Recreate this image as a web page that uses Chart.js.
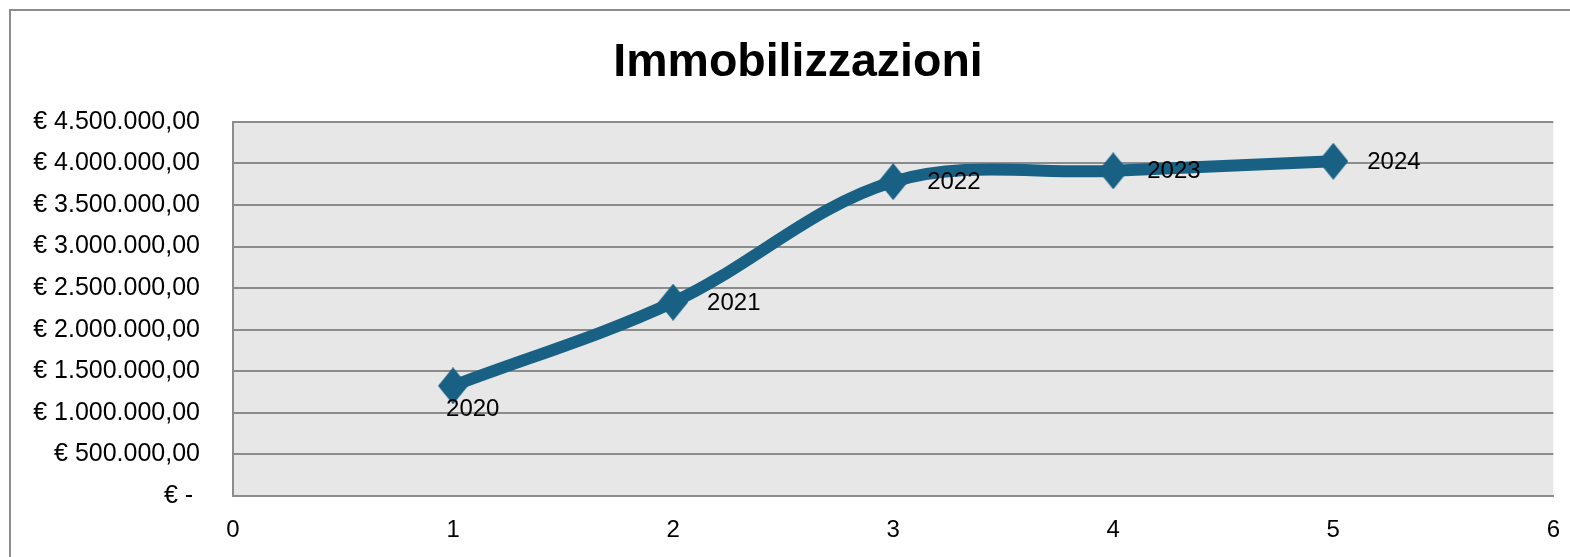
<!DOCTYPE html>
<html>
<head>
<meta charset="utf-8">
<script src="https://cdn.jsdelivr.net/npm/chart.js@4"></script>
<style>
  html, body { margin: 0; padding: 0; background: #fff; overflow: hidden; }
  #wrap { position: relative; width: 1570px; height: 557px; }
  #frame { position: absolute; left: 9px; top: 9px; width: 1600px; height: 600px;
           border: 2px solid #8c8c8c; box-sizing: border-box; }
  canvas { position: absolute; left: 0; top: 0; }
</style>
</head>
<body>
<div id="wrap">
  <div id="frame"></div>
  <canvas id="chart" width="1570" height="557"></canvas>
</div>
<script>
// chart data
var years = ['2020', '2021', '2022', '2023', '2024'];
var xValues = [1, 2, 3, 4, 5];
var values = [1325000, 2330000, 3780000, 3910000, 4025000];
var labelPos = ['below', 'right', 'right', 'right', 'right'];
var yTickLabels = ['€ - ', '€ 500.000,00', '€ 1.000.000,00', '€ 1.500.000,00', '€ 2.000.000,00',
                   '€ 2.500.000,00', '€ 3.000.000,00', '€ 3.500.000,00', '€ 4.000.000,00', '€ 4.500.000,00'];

var lineColor = '#186184';
var gridColor = '#8c8c8c';
var font = 'Liberation Sans, Arial, sans-serif';

// diamond marker (a bit taller than wide, like the original)
function diamond(w, h) {
  var c = document.createElement('canvas');
  c.width = w; c.height = h;
  var g = c.getContext('2d');
  g.fillStyle = lineColor;
  g.beginPath();
  g.moveTo(w / 2, 0);
  g.lineTo(w, h / 2);
  g.lineTo(w / 2, h);
  g.lineTo(0, h / 2);
  g.closePath();
  g.fill();
  return c;
}

// plot area background
var plotBg = {
  id: 'plotBg',
  beforeDraw: function(chart) {
    var a = chart.chartArea, ctx = chart.ctx;
    ctx.save();
    ctx.fillStyle = '#e7e7e7';
    ctx.fillRect(a.left, a.top, a.right - a.left, a.bottom - a.top);
    ctx.restore();
  }
};

// year labels next to each point
var yearLabels = {
  id: 'yearLabels',
  afterDatasetsDraw: function(chart) {
    var ctx = chart.ctx;
    var meta = chart.getDatasetMeta(0);
    ctx.save();
    ctx.font = '24px ' + font;
    ctx.fillStyle = '#000';
    ctx.textAlign = 'left';
    ctx.textBaseline = 'middle';
    meta.data.forEach(function(pt, i) {
      if (labelPos[i] === 'below') {
        ctx.fillText(years[i], pt.x - 7, pt.y + 24);
      } else {
        ctx.fillText(years[i], pt.x + 34, pt.y + 1);
      }
    });
    ctx.restore();
  }
};

var points = xValues.map(function(x, i) { return { x: x, y: values[i] }; });

var ctx = document.getElementById('chart').getContext('2d');
var chart = new Chart(ctx, {
  type: 'line',
  data: {
    datasets: [{
      label: 'Immobilizzazioni',
      data: points,
      borderColor: lineColor,
      backgroundColor: lineColor,
      borderWidth: 12,
      tension: 0.35,
      pointStyle: diamond(30, 37),
      pointRadius: 15,
      clip: false
    }]
  },
  options: {
    responsive: false,
    animation: false,
    events: [],
    layout: { autoPadding: false, padding: { left: 31, right: 5, top: 0, bottom: 0 } },
    plugins: {
      legend: { display: false },
      tooltip: { enabled: false },
      title: {
        display: true,
        text: 'Immobilizzazioni',
        color: '#000',
        font: { family: font, size: 46.5, weight: 'bold', lineHeight: 1.2 },
        padding: { top: 35, bottom: 31 }
      }
    },
    scales: {
      x: {
        type: 'linear',
        min: 0,
        max: 6,
        ticks: { stepSize: 1, color: '#000', padding: 10, font: { family: font, size: 24 } },
        grid: { display: false, drawTicks: true, tickLength: 10 },
        border: { display: true, color: gridColor, width: 2 },
        afterFit: function(s) { s.height = 61; }
      },
      y: {
        min: 0,
        max: 4500000,
        ticks: {
          stepSize: 500000,
          color: '#000',
          padding: 33,
          font: { family: font, size: 25 },
          callback: function(v, i) { return yTickLabels[i]; }
        },
        grid: { color: gridColor, lineWidth: 2, drawTicks: false },
        border: { display: true, color: gridColor, width: 2 },
        afterFit: function(s) { s.width = 202; }
      }
    }
  },
  plugins: [plotBg, yearLabels]
});
</script>
</body>
</html>
